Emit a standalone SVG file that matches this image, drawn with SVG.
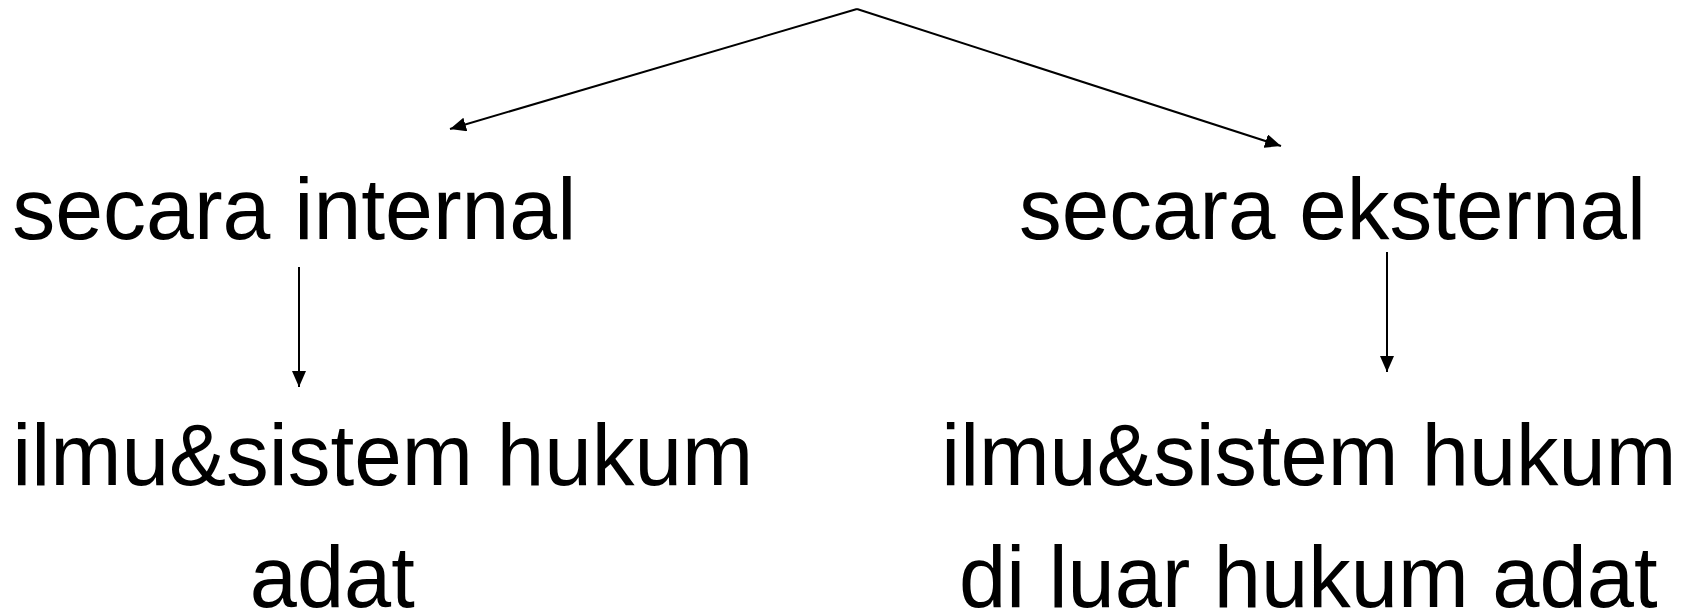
<svg xmlns="http://www.w3.org/2000/svg" width="1690" height="613" viewBox="0 0 1690 613">
  <style>
    .label { font-family: "Liberation Sans", Arial, Helvetica, sans-serif; font-size: 88px; fill: #000; }
    .link { fill: none; stroke: #000; stroke-width: 2; }
  </style>
  <defs>
    <marker id="arrow" viewBox="0 0 16 14" refX="16" refY="7" markerWidth="16" markerHeight="14" markerUnits="userSpaceOnUse" orient="auto">
      <path d="M0,0 L16,7 L0,14 Z" fill="#000"/>
    </marker>
  </defs>
  <rect width="1690" height="613" fill="#fff"/>

  <!-- branch from the apex down to each side, then each side down to its result -->
  <g id="connectors">
    <line class="link" x1="857" y1="9" x2="450" y2="129" marker-end="url(#arrow)"/>
    <line class="link" x1="857" y1="9" x2="1281" y2="146" marker-end="url(#arrow)"/>
    <line class="link" x1="299" y1="267" x2="299" y2="387" marker-end="url(#arrow)"/>
    <line class="link" x1="1387" y1="252" x2="1387" y2="372" marker-end="url(#arrow)"/>
  </g>

  <g id="internal">
    <text class="label" x="12.3" y="239" textLength="564" lengthAdjust="spacingAndGlyphs">secara internal</text>
  </g>
  <g id="eksternal">
    <text class="label" x="1019" y="239" textLength="627" lengthAdjust="spacingAndGlyphs">secara eksternal</text>
  </g>
  <g id="hukum-adat">
    <text class="label" x="12.3" y="485" textLength="741" lengthAdjust="spacingAndGlyphs">ilmu&amp;sistem hukum</text>
    <text class="label" x="249.8" y="607" textLength="165" lengthAdjust="spacingAndGlyphs">adat</text>
  </g>
  <g id="luar-hukum-adat">
    <text class="label" x="941.3" y="485" textLength="735" lengthAdjust="spacingAndGlyphs">ilmu&amp;sistem hukum</text>
    <text class="label" x="959" y="607" textLength="698.5" lengthAdjust="spacingAndGlyphs">di luar hukum adat</text>
  </g>
</svg>
